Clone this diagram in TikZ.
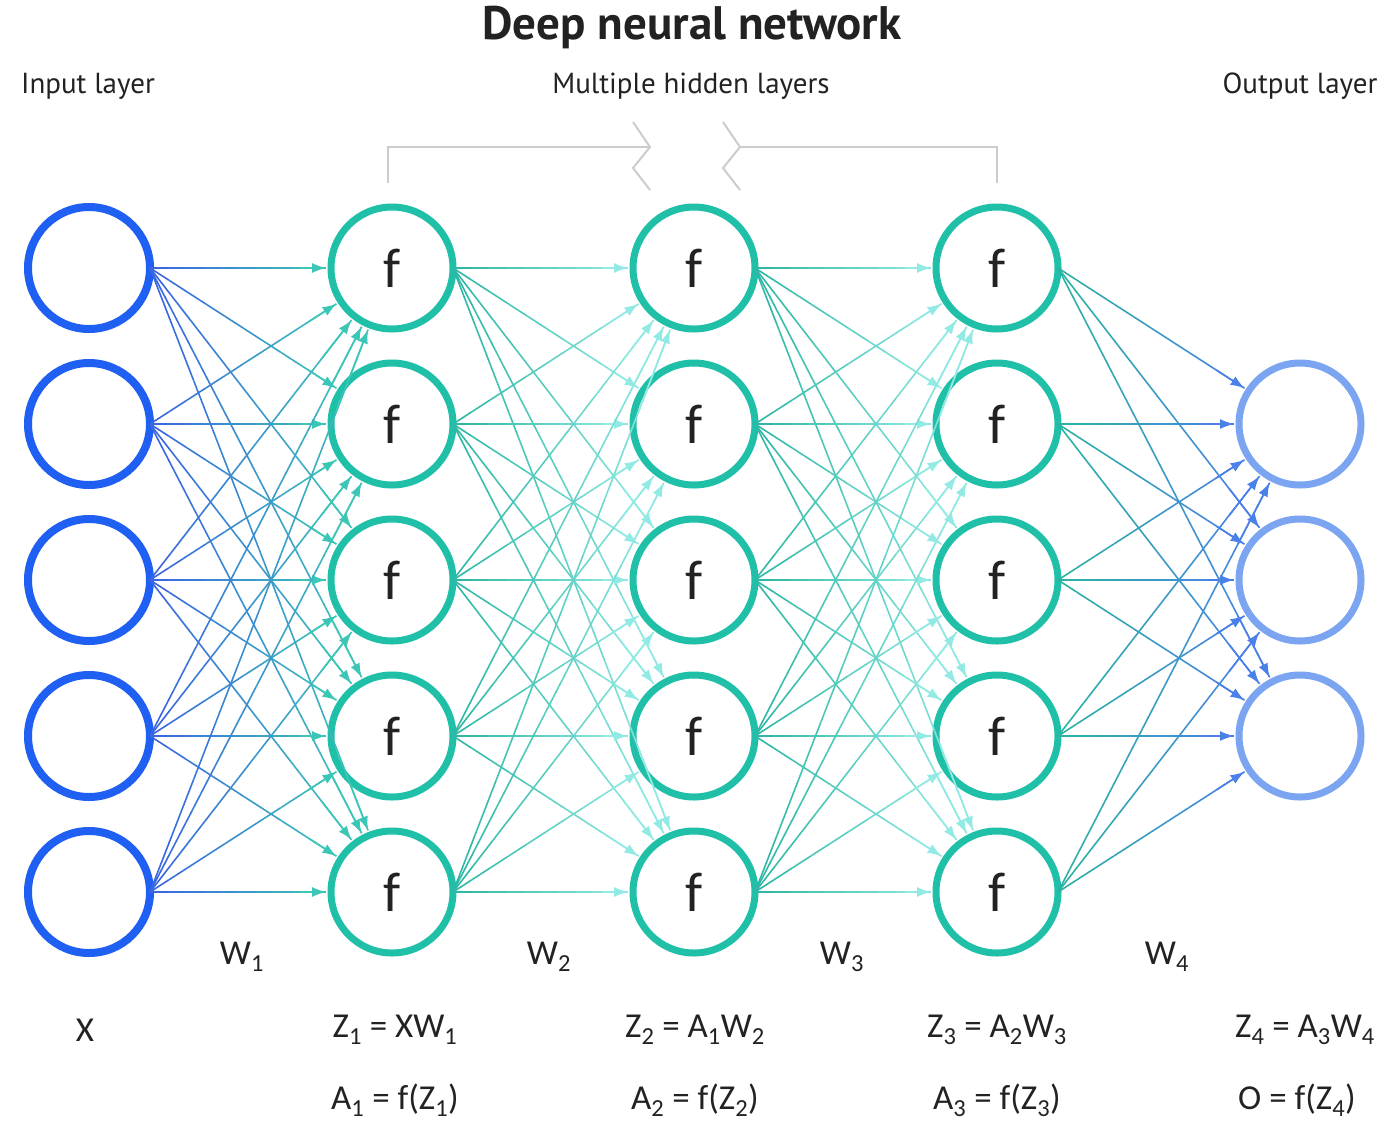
\documentclass[tikz,border=0pt]{standalone}
\usepackage{fontspec}
\setmainfont{PT Sans}
\newfontfamily\calfont{Carlito}
\usetikzlibrary{arrows.meta,calc}

\definecolor{inblue}{HTML}{1F5FF2}
\definecolor{hidteal}{HTML}{1FBFA8}
\definecolor{outblue}{HTML}{7BA5F0}
\definecolor{edgeblue}{HTML}{3A62E2}
\definecolor{edgeteal}{HTML}{3CC6B6}
\definecolor{edgedark}{HTML}{2AB5A2}
\definecolor{edgecyan}{HTML}{92EAE4}
\definecolor{edgeout}{HTML}{4A80E8}
\definecolor{bracketgray}{HTML}{CCCCCC}
\definecolor{txt}{HTML}{222222}

% connector fading from #3 to #4, node #1 to node #2
\newcommand\gradedge[4]{%
  \path (#1.east) -- (#2) coordinate[pos=0] (ga) coordinate[pos=1] (gb);
  \coordinate (ge) at ($(gb)!5pt!(ga)$);
  \foreach \k in {1,...,10}{%
    \pgfmathsetmacro\fa{(\k-1)/10}%
    \pgfmathsetmacro\fb{\k/10}%
    \pgfmathtruncatemacro\mixp{(\k-0.5)*10}%
    \draw[edge, color=#4!\mixp!#3] ($(ga)!\fa!(ge)$) -- ($(ga)!\fb!(ge)$);
  }
  \draw[edge, color=#4, -{Latex[length=14pt,width=10pt]}] ($(ga)!0.85!(ge)$) -- (ge);
}

\begin{document}
\begin{tikzpicture}[x=1pt, y=-1pt,
    neuron/.style={circle, minimum size=122pt, inner sep=0pt, outer sep=0pt, fill=white},
    inp/.style={neuron, draw=inblue, line width=8pt},
    hid/.style={neuron, draw=hidteal, line width=7pt, text=txt, font=\calfont\fontsize{56}{60}\selectfont},
    outp/.style={neuron, draw=outblue, line width=7pt},
    edge/.style={line width=1.6pt},
    bracket/.style={draw=bracketgray, line width=2pt},
    title/.style={text=txt, font=\fontsize{47}{50}\selectfont\bfseries},
    layerlbl/.style={text=txt, font=\fontsize{29}{32}\selectfont},
    formula/.style={text=txt, font=\calfont\fontsize{35}{38}\selectfont}]
    \useasboundingbox (0,0) rectangle (1384,1120);

    % Labels on top
    \node [title]    (title) at (692,28)  {Deep neural network};
    \node [layerlbl] (lin)   at (88,86)   {Input layer};
    \node [layerlbl] (lhid)  at (691,86)  {Multiple hidden layers};
    \node [layerlbl] (lout)  at (1300,86) {Output layer};

    % Bracket over the hidden layers
    \draw [bracket] (388,183) -- (388,147) -- (650,147);
    \draw [bracket] (633,122) -- (650,147) -- (633,168) -- (650,190);
    \draw [bracket] (997,183) -- (997,147) -- (740,147);
    \draw [bracket] (723,122) -- (740,147) -- (723,168) -- (740,190);

    % Nodes {x1..x5, h1-1..h3-5, o1..o3}
    \foreach \i in {1,...,5}
        \node [inp] (x\i) at (89,{268+156*(\i-1)}) {};
    \foreach \l/\x in {1/392, 2/694, 3/997}
        \foreach \i in {1,...,5}
            \node [hid] (h\l-\i) at (\x,{268+156*(\i-1)}) {f};
    \foreach \i in {1,2,3}
        \node [outp] (o\i) at (1300,{424+156*(\i-1)}) {};

    % Paths
    \foreach \i in {1,...,5}
        \foreach \j in {1,...,5}
            \gradedge{x\i}{h1-\j}{edgeblue}{edgeteal};
    \foreach \l/\m in {1/2, 2/3}
        \foreach \i in {1,...,5}
            \foreach \j in {1,...,5}
                \gradedge{h\l-\i}{h\m-\j}{edgedark}{edgecyan};
    \foreach \i in {1,...,5}
        \foreach \j in {1,2,3}
            \gradedge{h3-\i}{o\j}{edgedark}{edgeout};

    % Weights and formulas
    \node [formula] (w1) at (242,957)  {W\textsubscript{1}};
    \node [formula] (w2) at (549,957)  {W\textsubscript{2}};
    \node [formula] (w3) at (842,957)  {W\textsubscript{3}};
    \node [formula] (w4) at (1167,957) {W\textsubscript{4}};

    \node [formula] (fx)  at (85,1030)   {X};
    \node [formula] (fz1) at (395,1030)  {Z\textsubscript{1} = XW\textsubscript{1}};
    \node [formula] (fa1) at (395,1100)  {A\textsubscript{1} = f(Z\textsubscript{1})};
    \node [formula] (fz2) at (695,1030)  {Z\textsubscript{2} = A\textsubscript{1}W\textsubscript{2}};
    \node [formula] (fa2) at (695,1100)  {A\textsubscript{2} = f(Z\textsubscript{2})};
    \node [formula] (fz3) at (997,1030)  {Z\textsubscript{3} = A\textsubscript{2}W\textsubscript{3}};
    \node [formula] (fa3) at (997,1100)  {A\textsubscript{3} = f(Z\textsubscript{3})};
    \node [formula] (fz4) at (1305,1030) {Z\textsubscript{4} = A\textsubscript{3}W\textsubscript{4}};
    \node [formula] (fo)  at (1297,1100) {O = f(Z\textsubscript{4})};
\end{tikzpicture}
\end{document}
